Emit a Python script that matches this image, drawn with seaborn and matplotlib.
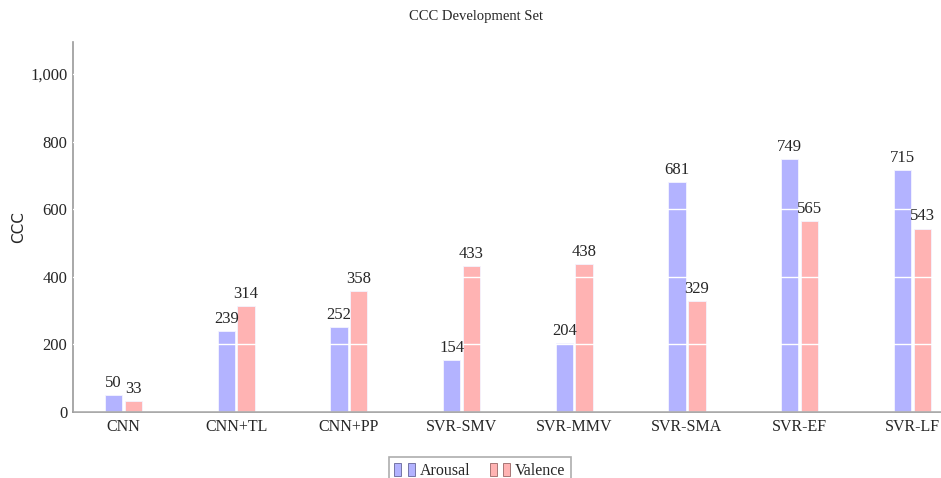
"""
CCC development set bar chart
"""

import seaborn as sns
import pandas as pd
import matplotlib.pyplot as plt
from matplotlib.patches import Patch
from matplotlib.legend_handler import HandlerTuple
from matplotlib.ticker import FuncFormatter

models = ['CNN', 'CNN+TL', 'CNN+PP', 'SVR-SMV', 'SVR-MMV', 'SVR-SMA', 'SVR-EF', 'SVR-LF']
arousal = [50, 239, 252, 154, 204, 681, 749, 715]
valence = [33, 314, 358, 433, 438, 329, 565, 543]

df = pd.DataFrame({'model': models * 2,
                   'value': arousal + valence,
                   'dim': ['Arousal'] * len(models) + ['Valence'] * len(models)})

sns.set_style('white')
plt.rcParams['font.family'] = ['Liberation Serif', 'DejaVu Serif']

pal = {'Arousal': '#b3b3ff', 'Valence': '#ffb3b3'}

fig = plt.figure(figsize=(9.41, 4.78), dpi=100)
ax = fig.add_axes([73 / 941, 66 / 478, 1 - 73 / 941, 370 / 478])

sns.barplot(data=df, x='model', y='value', hue='dim', palette=pal,
            width=0.35, gap=0.12, saturation=1, legend=False, ax=ax,
            edgecolor='#f4f4ff', linewidth=0.6)

for c in ax.containers:
    ax.bar_label(c, padding=3, fontsize=12)

ax.set_ylim(0, 1095)
ax.set_xlim(-0.448, 7.254)
ax.set_yticks([0, 200, 400, 600, 800, 1000])
ax.yaxis.set_major_formatter(FuncFormatter(lambda v, p: f'{int(v):,}'))
ax.tick_params(axis='y', labelsize=12, length=0, pad=4)
ax.tick_params(axis='x', labelsize=11.5, length=0, pad=5)
ax.set_xlabel('')
ax.set_ylabel('CCC', fontsize=11, family='DejaVu Sans')
ax.yaxis.set_label_coords(-0.054, 0.5)

ax.grid(axis='y', color='white', linewidth=1)
ax.set_axisbelow(False)
sns.despine(ax=ax, top=True, right=True)
for s in ['left', 'bottom']:
    ax.spines[s].set_color('#999999')
    ax.spines[s].set_linewidth(1.2)

fig.text(0.506, 0.965, 'CCC Development Set', ha='center', va='center', fontsize=10.5)

handles = [(Patch(facecolor=pal[k], edgecolor='#666699' if k == 'Arousal' else '#996666', linewidth=0.6),
            Patch(facecolor=pal[k], edgecolor='#666699' if k == 'Arousal' else '#996666', linewidth=0.6))
           for k in ['Arousal', 'Valence']]
leg = fig.legend(handles, ['Arousal', 'Valence'], loc='lower center',
                 bbox_to_anchor=(0.51, -0.03), ncol=2, fontsize=11.5,
                 handler_map={tuple: HandlerTuple(ndivide=2, pad=0.4)},
                 handlelength=1.3, handleheight=0.9, handletextpad=0.3,
                 columnspacing=1.2, fancybox=False, frameon=True,
                 borderpad=0.35)
leg.get_frame().set_edgecolor('#999999')
leg.get_frame().set_linewidth(1.2)

plt.savefig('out.png', dpi=100)
